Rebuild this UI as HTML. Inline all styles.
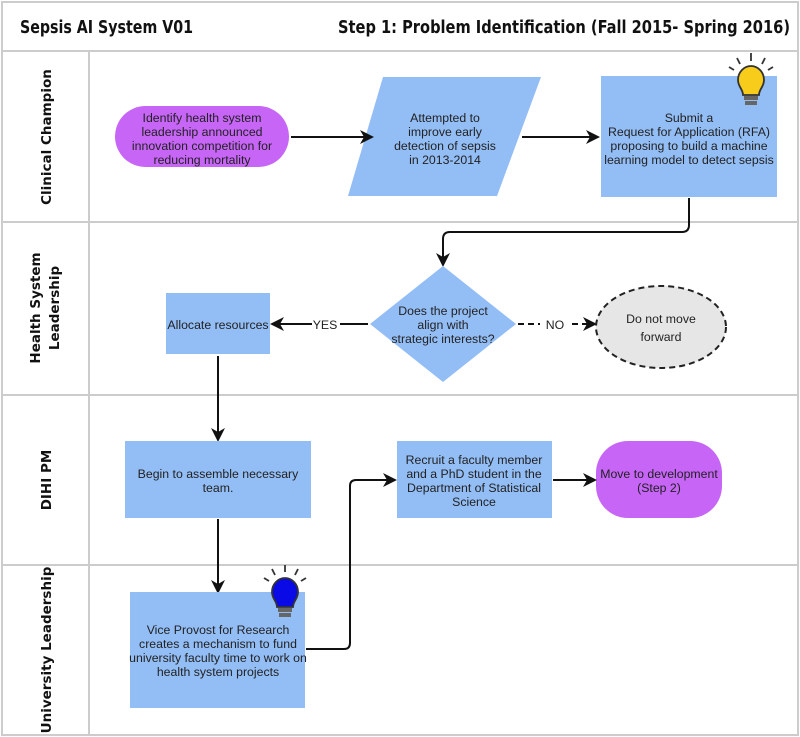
<!DOCTYPE html>
<html><head><meta charset="utf-8"><style>
body{margin:0;background:#fff}
svg{display:block}
.t{font-family:"Liberation Sans",sans-serif;font-size:12.3px;fill:#222;text-anchor:middle}
.h{font-family:"DejaVu Sans Condensed","Liberation Sans",sans-serif;font-weight:bold;font-size:18px;fill:#111}
.l{font-family:"DejaVu Sans","Liberation Sans",sans-serif;font-weight:bold;font-size:13.5px;fill:#111;text-anchor:middle}
</style></head><body>
<svg width="800" height="737" viewBox="0 0 800 737">
<defs><marker id="a" markerWidth="14" markerHeight="14" refX="12" refY="7" orient="auto" markerUnits="userSpaceOnUse"><path d="M0,0 L14,7 L0,14 L4,7 z" fill="#111"/></marker></defs>
<rect x="2" y="2" width="796" height="733" fill="#fff" stroke="#ccc" stroke-width="2"/>
<line x1="2" y1="51" x2="798" y2="51" stroke="#ccc" stroke-width="2"/>
<line x1="2" y1="222" x2="798" y2="222" stroke="#ccc" stroke-width="2"/>
<line x1="2" y1="395" x2="798" y2="395" stroke="#ccc" stroke-width="2"/>
<line x1="2" y1="565" x2="798" y2="565" stroke="#ccc" stroke-width="2"/>
<line x1="89" y1="51" x2="89" y2="735" stroke="#ccc" stroke-width="2"/>
<text class="h" x="20" y="33" textLength="173" lengthAdjust="spacingAndGlyphs">Sepsis AI System V01</text>
<text class="h" x="338" y="33" textLength="452" lengthAdjust="spacingAndGlyphs">Step 1: Problem Identification (Fall 2015- Spring 2016)</text>
<text class="l" transform="translate(51,137) rotate(-90)">Clinical Champion</text>
<text class="l" transform="translate(40,308) rotate(-90)">Health System</text>
<text class="l" transform="translate(59,308) rotate(-90)">Leadership</text>
<text class="l" transform="translate(51,480) rotate(-90)">DIHI PM</text>
<text class="l" transform="translate(51,650) rotate(-90)">University Leadership</text>

<rect x="115" y="106" width="174" height="61" rx="30.5" fill="#c765f7"/>
<text class="t"><tspan x="202" y="122">Identify health system</tspan><tspan x="202" y="136">leadership announced</tspan><tspan x="202" y="150">innovation competition for</tspan><tspan x="202" y="164">reducing mortality</tspan></text>
<polygon points="383,77 541,77 497,196 348,196" fill="#93bdf5"/>
<text class="t"><tspan x="445" y="122">Attempted to</tspan><tspan x="445" y="136">improve early</tspan><tspan x="445" y="150">detection of sepsis</tspan><tspan x="445" y="164">in 2013-2014</tspan></text>
<rect x="601" y="76" width="176" height="121" fill="#93bdf5"/>
<text class="t"><tspan x="689" y="122">Submit a</tspan><tspan x="689" y="136">Request for Application (RFA)</tspan><tspan x="689" y="150">proposing to build a machine</tspan><tspan x="689" y="164">learning model to detect sepsis</tspan></text>
<g stroke="#333" stroke-width="1.8"><line x1="751" y1="53" x2="751" y2="61"/><line x1="737" y1="58" x2="740" y2="64"/><line x1="765" y1="58" x2="762" y2="64"/><line x1="729" y1="67" x2="734" y2="70"/><line x1="773" y1="67" x2="768" y2="70"/></g>
<path d="M738,80 a13,14 0 1 1 26,0 c0,7 -5,9 -5,15 h-16 c0,-6 -5,-8 -5,-15z" fill="#f8cc1b" stroke="#333" stroke-width="1.8"/>
<rect x="744" y="96" width="14" height="4" fill="#666"/><rect x="745" y="101" width="12" height="4" fill="#666"/>
<line x1="291" y1="137" x2="372" y2="137" stroke="#111" stroke-width="2" marker-end="url(#a)"/>
<line x1="522" y1="137" x2="598" y2="137" stroke="#111" stroke-width="2" marker-end="url(#a)"/>
<path d="M689,198 V225 Q689,232 682,232 H450 Q443,232 443,239 V265" fill="none" stroke="#111" stroke-width="2" marker-end="url(#a)"/>

<polygon points="443,266 516,324 443,382 370,324" fill="#93bdf5"/>
<text class="t"><tspan x="443" y="315">Does the project</tspan><tspan x="443" y="329">align with</tspan><tspan x="443" y="343">strategic interests?</tspan></text>
<rect x="166" y="293" width="104" height="61" fill="#93bdf5"/>
<text class="t" x="218" y="329">Allocate resources</text>
<line x1="368" y1="324" x2="340" y2="324" stroke="#111" stroke-width="2"/>
<line x1="312" y1="324" x2="272" y2="324" stroke="#111" stroke-width="2" marker-end="url(#a)"/>
<text class="t" x="325" y="329">YES</text>
<line x1="518" y1="324" x2="540" y2="324" stroke="#111" stroke-width="2" stroke-dasharray="6,4"/>
<line x1="572" y1="324" x2="595" y2="324" stroke="#111" stroke-width="2" stroke-dasharray="6,4" marker-end="url(#a)"/>
<text class="t" x="555" y="329">NO</text>
<ellipse cx="661" cy="327" rx="65" ry="41" fill="#e6e6e6" stroke="#222" stroke-width="2" stroke-dasharray="6,4"/>
<text class="t"><tspan x="661" y="323">Do not move</tspan><tspan x="661" y="341">forward</tspan></text>
<line x1="218" y1="356" x2="218" y2="440" stroke="#111" stroke-width="2" marker-end="url(#a)"/>

<rect x="125" y="441" width="186" height="77" fill="#93bdf5"/>
<text class="t"><tspan x="218" y="478">Begin to assemble necessary</tspan><tspan x="218" y="492">team.</tspan></text>
<rect x="397" y="441" width="155" height="77" fill="#93bdf5"/>
<text class="t"><tspan x="474" y="464">Recruit a faculty member</tspan><tspan x="474" y="478">and a PhD student in the</tspan><tspan x="474" y="492">Department of Statistical</tspan><tspan x="474" y="506">Science</tspan></text>
<rect x="596" y="441" width="126" height="77" rx="32" fill="#c765f7"/>
<text class="t"><tspan x="659" y="478">Move to development</tspan><tspan x="659" y="492">(Step 2)</tspan></text>
<line x1="553" y1="480" x2="595" y2="480" stroke="#111" stroke-width="2" marker-end="url(#a)"/>
<line x1="218" y1="519" x2="218" y2="592" stroke="#111" stroke-width="2" marker-end="url(#a)"/>

<rect x="130" y="592" width="175" height="116" fill="#93bdf5"/>
<text class="t"><tspan x="218" y="634">Vice Provost for Research</tspan><tspan x="218" y="648">creates a mechanism to fund</tspan><tspan x="218" y="662">university faculty time to work on</tspan><tspan x="218" y="676">health system projects</tspan></text>
<path d="M306,649 H344 Q350,649 350,643 V486 Q350,480 356,480 H395" fill="none" stroke="#111" stroke-width="2" marker-end="url(#a)"/>
<g stroke="#333" stroke-width="1.8"><line x1="285" y1="565" x2="285" y2="572"/><line x1="272" y1="569" x2="275" y2="575"/><line x1="298" y1="569" x2="295" y2="575"/><line x1="264" y1="578" x2="269" y2="581"/><line x1="306" y1="578" x2="301" y2="581"/></g>
<path d="M272,592 a13,14 0 1 1 26,0 c0,7 -5,9 -5,15 h-16 c0,-6 -5,-8 -5,-15z" fill="#0a0ae6" stroke="#333" stroke-width="1.8"/>
<rect x="278" y="608" width="14" height="4" fill="#666"/><rect x="279" y="613" width="12" height="4" fill="#666"/>
</svg>
</body></html>
